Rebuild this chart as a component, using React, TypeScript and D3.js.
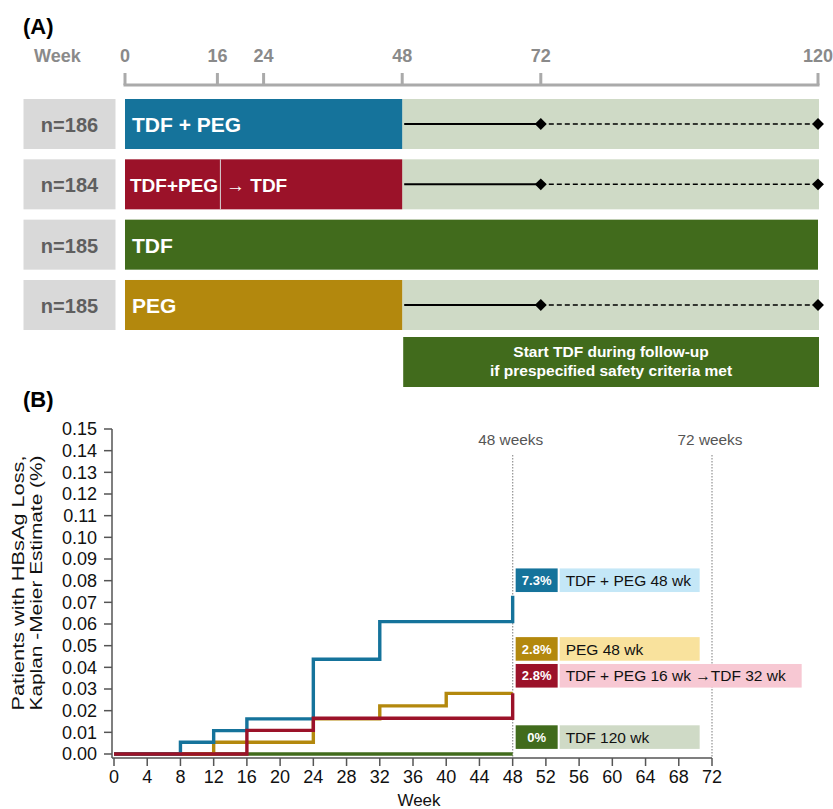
import React from "react";
import * as d3 from "d3";

// ---- panel A data ----
const weekTicksA = [0, 16, 24, 48, 72, 120];
const armN = ["n=186", "n=184", "n=185", "n=185"];
const armNames = ["TDF + PEG", "TDF+PEG", "TDF", "PEG"];
const armTreatEnd = [48, 48, 120, 48];
const armFollowUp = [true, true, false, true];
const armColors = ["#15739b", "#9b1229", "#416b1c", "#b3880d"];
const visitWeeks = [48, 72, 120];

// ---- panel B data (Kaplan-Meier steps) ----
const tdfPegWeeks = [0, 8, 12, 16, 24, 32, 48];
const tdfPegValues = [0, 0.0054, 0.0108, 0.0162, 0.0437, 0.0611, 0.073];
const pegWeeks = [0, 12, 24, 32, 40, 48];
const pegValues = [0, 0.0054, 0.0162, 0.0222, 0.028, 0.028];
const switchWeeks = [0, 16, 24, 48];
const switchValues = [0, 0.0109, 0.0165, 0.028];
const tdfWeeks = [0, 48];
const tdfValues = [0, 0];

const legendPct = ["7.3%", "2.8%", "2.8%", "0%"];
const legendNames = ["TDF + PEG 48 wk", "PEG 48 wk", "TDF + PEG 16 wk \u2192TDF 32 wk", "TDF 120 wk"];
const legendAt = [0.0802, 0.0485, 0.0361, 0.0078];
const legendDark = ["#15739b", "#b3880d", "#9b1229", "#416b1c"];
const legendLight = ["#c4e7f7", "#f9e29d", "#f7c8d3", "#cfdac6"];
const refWeeks = [48, 72];

const FONT = "'Liberation Sans', Arial, sans-serif";

export default function App() {
  // panel A scales
  const xA = d3.scaleLinear().domain([0, 120]).range([125, 818]);
  const rowY = d3.scaleBand<number>().domain([0, 1, 2, 3]).range([99, 330]).paddingInner(0.171).paddingOuter(0);
  const bh = rowY.bandwidth();

  // panel B scales
  const xB = d3.scaleLinear().domain([0, 72]).range([114, 712]);
  const yB = d3.scaleLinear().domain([0, 0.15]).range([754, 429]);
  const step = d3.line<[number, number]>()
    .x(d => xB(d[0]))
    .y(d => yB(d[1]))
    .curve(d3.curveStepAfter);

  const curves = [
    { w: tdfWeeks, v: tdfValues, c: "#416b1c" },
    { w: pegWeeks, v: pegValues, c: "#b3880d" },
    { w: tdfPegWeeks, v: tdfPegValues, c: "#15739b" },
    { w: switchWeeks, v: switchValues, c: "#9b1229" },
  ];

  const diamond = d3.symbol().type(d3.symbolDiamond2).size(90)();

  return (
    <div style={{ position: "absolute", left: 0, top: 0 }}>
      <svg width={833} height={809} style={{ display: "block", fontFamily: FONT }}>
        <rect width={833} height={809} fill="#fff" />

        {/* ---------- (A) ---------- */}
        <text x={23} y={34} fontSize={22} fontWeight="bold" fill="#000">(A)</text>
        <text x={34} y={62} fontSize={18} fontWeight="bold" fill="#8a8a8a">Week</text>
        {weekTicksA.map(w => (
          <g key={"wa" + w}>
            <text x={xA(w)} y={62} textAnchor="middle" fontSize={18} fontWeight="bold" fill="#8a8a8a">{w}</text>
            <line x1={xA(w)} x2={xA(w)} y1={73} y2={85} stroke="#aaa" strokeWidth={3} />
          </g>
        ))}
        <line x1={xA(0) - 1.5} x2={xA(120) + 1.5} y1={85} y2={85} stroke="#aaa" strokeWidth={3} />

        {armN.map((n, i) => {
          const y0 = rowY(i) as number;
          const cy = y0 + bh / 2;
          return (
            <g key={"arm" + i}>
              <rect x={23.5} y={y0} width={92} height={bh} fill="#d9d9d9" />
              <text x={69.5} y={y0 + 33} textAnchor="middle" fontSize={20} fontWeight="bold" fill="#5f5f5f">{n}</text>
              {armFollowUp[i] && (
                <rect x={xA(armTreatEnd[i])} y={y0} width={xA(120) - xA(armTreatEnd[i]) + 1} height={bh} fill="#cfdac6" />
              )}
              <rect x={xA(0)} y={y0} width={xA(armTreatEnd[i]) - xA(0)} height={bh} fill={armColors[i]} />
              {i === 1 ? (
                <g>
                  <line x1={xA(16) + 3} x2={xA(16) + 3} y1={y0} y2={y0 + bh} stroke="#d8d8d8" strokeWidth={1} />
                  <text x={130} y={y0 + 33} fontSize={19} fontWeight="bold" fill="#fff">{armNames[i]}</text>
                  <text x={226} y={y0 + 33} fontSize={19} fontWeight="bold" fill="#fff">{"\u2192 TDF"}</text>
                </g>
              ) : (
                <text x={132} y={y0 + 33} fontSize={21} fontWeight="bold" fill="#fff">{armNames[i]}</text>
              )}
              {armFollowUp[i] && (
                <g>
                  <line x1={xA(visitWeeks[0]) + 2} x2={xA(visitWeeks[1])} y1={cy} y2={cy} stroke="#000" strokeWidth={2} />
                  <line x1={xA(visitWeeks[1])} x2={xA(visitWeeks[2])} y1={cy} y2={cy} stroke="#000" strokeWidth={1.5} strokeDasharray="5,3" />
                  {visitWeeks.slice(1).map(w => (
                    <path key={"d" + w} d={diamond as string} transform={`translate(${xA(w)},${cy})`} fill="#000" />
                  ))}
                </g>
              )}
            </g>
          );
        })}

        <rect x={xA(48) + 1} y={337} width={xA(120) - xA(48)} height={50} fill="#416b1c" />
        <text x={(xA(48) + xA(120)) / 2 + 1} y={356.5} textAnchor="middle" fontSize={15.5} fontWeight="bold" fill="#fff">Start TDF during follow-up</text>
        <text x={(xA(48) + xA(120)) / 2 + 1} y={375.5} textAnchor="middle" fontSize={15.5} fontWeight="bold" fill="#fff">if prespecified safety criteria met</text>

        {/* ---------- (B) ---------- */}
        <text x={23} y={407} fontSize={22} fontWeight="bold" fill="#000">(B)</text>

        {refWeeks.map(w => (
          <g key={"ref" + w}>
            <line x1={xB(w)} x2={xB(w)} y1={455} y2={758} stroke="#9a9a9a" strokeWidth={1.3} strokeDasharray="1.5,1.5" />
            <text x={xB(w) - 2} y={445} textAnchor="middle" fontSize={15.4} fill="#555">{w} weeks</text>
          </g>
        ))}

        {/* y axis */}
        <line x1={112} x2={112} y1={yB(0.15)} y2={758} stroke="#555" strokeWidth={1.5} />
        {yB.ticks(15).map(t => (
          <g key={"yt" + t}>
            <line x1={104} x2={112} y1={yB(t)} y2={yB(t)} stroke="#555" strokeWidth={1.5} />
            <text x={97} y={yB(t) + 6.3} textAnchor="end" fontSize={18} fill="#111">{d3.format(".2f")(t)}</text>
          </g>
        ))}
        <g transform="translate(0,583) rotate(-90)">
          <text x={0} y={24} textAnchor="middle" fontSize={16.5} fill="#111" textLength={255} lengthAdjust="spacingAndGlyphs">Patients with HBsAg Loss,</text>
          <text x={0} y={42} textAnchor="middle" fontSize={16.5} fill="#111" textLength={255} lengthAdjust="spacingAndGlyphs">Kaplan -Meier Estimate (%)</text>
        </g>

        {/* x axis */}
        <line x1={112} x2={xB(72)} y1={758} y2={758} stroke="#555" strokeWidth={1.5} />
        {d3.range(0, 73, 4).map(t => (
          <g key={"xt" + t}>
            <line x1={xB(t)} x2={xB(t)} y1={758} y2={766} stroke="#555" strokeWidth={1.5} />
            <text x={xB(t)} y={783} textAnchor="middle" fontSize={18} fill="#111">{t}</text>
          </g>
        ))}
        <text x={419} y={806} textAnchor="middle" fontSize={17} fill="#111">Week</text>

        {/* KM curves */}
        {curves.map((c, i) => (
          <path key={"km" + i}
            d={step(c.w.map((w, j) => [w, c.v[j]] as [number, number])) as string}
            fill="none" stroke={c.c} strokeWidth={3.4} strokeLinejoin="miter" />
        ))}

        {/* legend tags */}
        {legendNames.map((name, i) => {
          const cy = yB(legendAt[i]);
          const x0 = xB(48) + 3;
          const labelW = i === 2 ? 242 : 140;
          return (
            <g key={"lg" + i}>
              <rect x={x0} y={cy - 11.8} width={42} height={23.6} fill={legendDark[i]} />
              <text x={x0 + 21} y={cy + 4.6} textAnchor="middle" fontSize={13} fontWeight="bold" fill="#fff">{legendPct[i]}</text>
              <rect x={x0 + 44} y={cy - 11.8} width={labelW} height={23.6} fill={legendLight[i]} />
              <text x={x0 + 50} y={cy + 5.6} fontSize={15.5} fill="#111">{name}</text>
            </g>
          );
        })}
      </svg>
    </div>
  );
}
